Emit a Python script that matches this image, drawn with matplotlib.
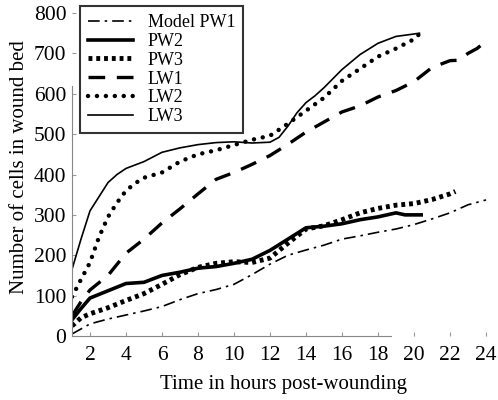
import matplotlib
matplotlib.use("Agg")
import matplotlib.pyplot as plt

plt.rcParams['font.family'] = ['Liberation Serif', 'DejaVu Serif']

pw1_t = [1, 2, 3, 4, 5, 6, 7, 8, 9, 10, 11, 12, 13, 14, 15, 16, 17, 18, 19, 20, 21, 22, 23, 24]
pw1_v = [5, 30, 42, 52, 62, 73, 90, 105, 115, 128, 152, 178, 200, 213, 225, 240, 248, 257, 265, 276, 290, 305, 325, 337]

pw2_t = [1, 1.5, 2, 3, 4, 5, 6, 7, 8, 9, 10, 11, 12, 13, 14, 15, 16, 17, 18, 19, 19.5, 20.4]
pw2_v = [40, 68, 94, 112, 130, 133, 150, 158, 168, 172, 180, 190, 212, 240, 268, 272, 278, 288, 295, 305, 300, 300]

pw3_t = [1, 1.5, 2, 3, 4, 5, 6, 7, 8, 9, 10, 11, 12, 13, 14, 15, 16, 17, 18, 19, 20, 21, 22, 22.3]
pw3_v = [25, 45, 55, 70, 88, 105, 128, 152, 170, 180, 184, 182, 193, 230, 265, 273, 288, 305, 316, 324, 328, 338, 352, 358]

lw1_t = [1, 1.5, 2, 3, 4, 5, 6, 7, 8, 9, 10, 11, 12, 13, 14, 15, 16, 17, 18, 19, 20, 21, 22, 22.5, 23, 23.5, 24]
lw1_v = [50, 85, 114, 150, 205, 240, 280, 315, 352, 388, 405, 425, 447, 475, 505, 530, 555, 570, 592, 608, 630, 665, 682, 683, 700, 712, 730]

lw2_t = [1, 1.5, 2, 2.5, 3, 3.5, 4, 4.5, 5, 6, 7, 8, 9, 10, 11, 12, 13, 14, 15, 16, 17, 18, 19, 20, 20.3]
lw2_v = [97, 140, 182, 245, 295, 330, 360, 378, 392, 405, 432, 450, 460, 473, 486, 496, 526, 558, 590, 632, 662, 692, 712, 735, 748]

lw3_t = [1, 1.5, 2, 2.5, 3, 3.5, 4, 5, 6, 7, 8, 9, 10, 11, 12, 12.5, 13, 13.5, 14, 14.5, 15, 16, 17, 18, 19, 20, 20.3]
lw3_v = [165, 240, 310, 345, 380, 400, 415, 432, 455, 466, 474, 479, 481, 478, 480, 492, 520, 553, 578, 595, 615, 660, 697, 725, 742, 748, 750]

x_ticks = [2, 4, 6, 8, 10, 12, 14, 16, 18, 20, 22, 24]
y_ticks = [0, 100, 200, 300, 400, 500, 600, 700, 800]

fig = plt.figure(figsize=(4.98, 4.0), dpi=100)
ax = fig.add_axes([72/498, 1-336/400, (495-72)/498, (336-13)/400])

ax.plot(pw1_t, pw1_v, color='black', lw=1.2, linestyle=(0, (7, 3, 1.5, 3)), label='Model PW1')
ax.plot(pw2_t, pw2_v, color='black', lw=2.6, linestyle='-', label='PW2')
ax.plot(pw3_t, pw3_v, color='black', lw=3.5, linestyle=(0, (0.8, 0.8)), dash_capstyle='butt', label='PW3')
ax.plot(lw1_t, lw1_v, color='black', lw=2.4, linestyle=(0, (5, 3.5)), dash_capstyle='butt', label='LW1')
ax.plot(lw2_t, lw2_v, color='black', lw=3.2, linestyle=(0, (0.01, 2.0)), dash_capstyle='round', label='LW2')
ax.plot(lw3_t, lw3_v, color='black', lw=1.2, linestyle='-', label='LW3')

ax.set_xlim(1, 24.5)
ax.set_ylim(0, 800)
ax.set_xticks(x_ticks)
ax.set_yticks(y_ticks)
ax.tick_params(direction='in', length=3, color='#999999', labelsize=15.5)
ax.tick_params(axis='y', pad=4)
ax.tick_params(axis='x', pad=7)
for s in ['top', 'right']:
    ax.spines[s].set_visible(False)
for s in ['left', 'bottom']:
    ax.spines[s].set_color('#888888')
    ax.spines[s].set_linewidth(0.8)
ax.spines['bottom'].set_bounds(1, 18.7)
ax.spines['left'].set_bounds(0, 620)

ax.set_xlabel('Time in hours post-wounding', fontsize=15)
ax.set_ylabel('Number of cells in wound bed', fontsize=15)
ax.xaxis.set_label_coords(284/498, 1-375/400, transform=fig.transFigure)
ax.yaxis.set_label_coords(29/498, 1-167/400, transform=fig.transFigure)

leg = fig.legend(loc='upper left', bbox_to_anchor=(80/498, 1-6/400), borderaxespad=0,
                 fontsize=13, frameon=True, fancybox=False, edgecolor='black',
                 handlelength=2.5, labelspacing=0.1, borderpad=0.45, handletextpad=0.8)
leg.get_frame().set_linewidth(1.5)

fig.savefig('out.png', dpi=100)
